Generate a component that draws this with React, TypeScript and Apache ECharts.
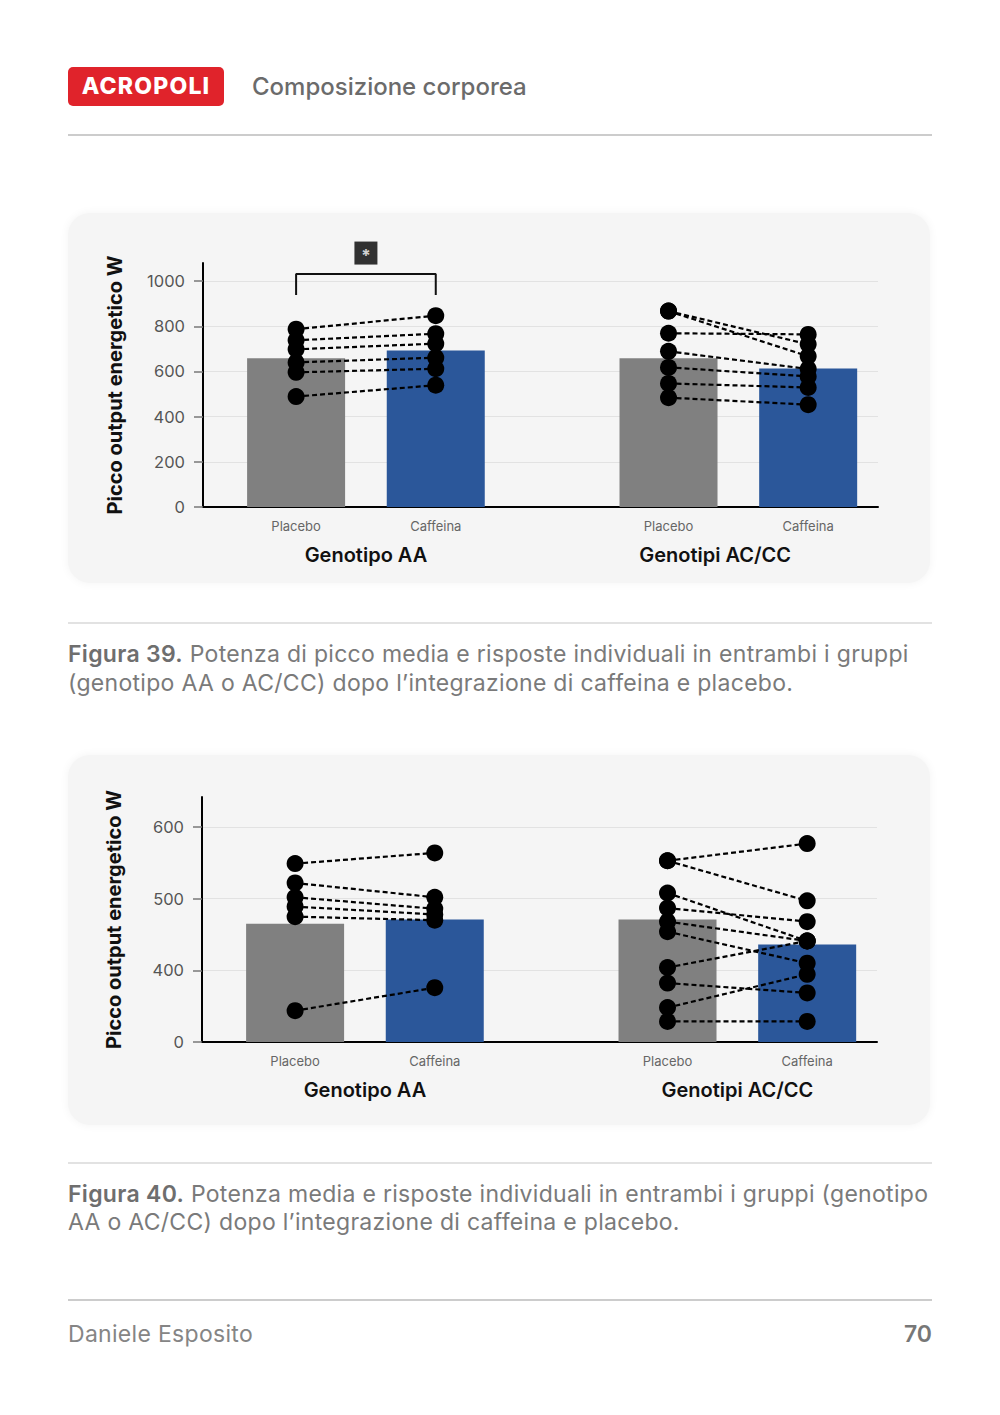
import React, { useEffect, useRef } from "react";
import * as echarts from "echarts";

// ---------- data ----------
const conditions = ["Placebo", "Caffeina"];
const groups = ["Genotipo AA", "Genotipi AC/CC"];

// Figure 39
const yTicks39 = [0, 200, 400, 600, 800, 1000];
const meansPlacebo39 = [658, 658];
const meansCaffeina39 = [693, 613];
const aaPlacebo39 = [787, 738, 698, 640, 596, 489];
const aaCaffeina39 = [847, 767, 723, 661, 612, 539];
const acccPlacebo39 = [867, 867, 769, 689, 618, 547, 484];
const acccCaffeina39 = [720, 667, 764, 611, 578, 529, 453];
const sigBracket39 = [938, 1031]; // low / high value of the significance bracket
const sigStar39 = 1124;

// Figure 40 (broken axis 0 | 400-600)
const yTicks40 = [0, 400, 500, 600];
const meansPlacebo40 = [465, 471];
const meansCaffeina40 = [471, 436];
const aaPlacebo40 = [549, 522, 502, 489, 475, 175];
const aaCaffeina40 = [564, 502, 486, 478, 470, 303];
const acccPlacebo40 = [553, 553, 508, 487, 468, 454, 404, 329, 192, 115];
const acccCaffeina40 = [577, 497, 441, 468, 441, 410, 441, 274, 378, 115];

// ---------- layout ----------
const SLOT_COUNT = 30;
const barSlots = [
  [4, 10],
  [20, 26],
];
const FONT = "Inter, 'Noto Sans', sans-serif";

const identity = (v: number) => v;
const broken40 = (v: number) => (v <= 400 ? v / 4 : v - 300);

function buildOption(cfg: {
  gridLeft: number;
  gridRight: number;
  gridTop: number;
  gridBottom: number;
  yMax: number;
  yTicks: number[];
  f: (v: number) => number;
  placeboMeans: number[];
  caffeinaMeans: number[];
  pairs: { p: number[]; c: number[] }[];
  groupSlots: number[];
  bracket?: number[];
  star?: number;
}) {
  const { f } = cfg;
  const catData = new Array(SLOT_COUNT).fill("");
  barSlots.forEach((s) => {
    catData[s[0]] = conditions[0];
    catData[s[1]] = conditions[1];
  });
  const grpData = new Array(SLOT_COUNT).fill("");
  cfg.groupSlots.forEach((s, i) => (grpData[s] = groups[i]));
  const tickDisplay = cfg.yTicks.map(f);
  const labelMap: Record<string, string> = {};
  cfg.yTicks.forEach((t) => (labelMap[String(f(t))] = String(t)));

  const series: any[] = [];
  series.push({
    type: "bar",
    name: conditions[0],
    barWidth: 98,
    barGap: "-100%",
    itemStyle: { color: "#808080" },
    data: cfg.placeboMeans.map((v, i) => [barSlots[i][0], f(v)]),
    z: 2,
  });
  series.push({
    type: "bar",
    name: conditions[1],
    barWidth: 98,
    barGap: "-100%",
    itemStyle: { color: "#2b579a" },
    data: cfg.caffeinaMeans.map((v, i) => [barSlots[i][1], f(v)]),
    z: 2,
  });
  const dots: number[][] = [];
  cfg.pairs.forEach((g, gi) => {
    g.p.forEach((pv, k) => {
      const cv = g.c[k];
      series.push({
        type: "line",
        data: [
          [barSlots[gi][0], f(pv)],
          [barSlots[gi][1], f(cv)],
        ],
        symbol: "none",
        silent: true,
        lineStyle: { color: "#000", width: 2.2, type: [5, 3] },
        z: 3,
      });
      dots.push([barSlots[gi][0], f(pv)]);
      dots.push([barSlots[gi][1], f(cv)]);
    });
  });
  series.push({
    type: "scatter",
    data: dots,
    symbolSize: 17,
    itemStyle: { color: "#000", opacity: 1 },
    z: 4,
  });
  if (cfg.bracket) {
    const [lo, hi] = cfg.bracket;
    const a = barSlots[0][0];
    const b = barSlots[0][1];
    series.push({
      type: "line",
      data: [
        [a, f(lo)],
        [a, f(hi)],
        [b, f(hi)],
        [b, f(lo)],
      ],
      symbol: "none",
      clip: false,
      lineStyle: { color: "#111", width: 2 },
      z: 5,
    });
  }
  if (cfg.star !== undefined) {
    series.push({
      type: "scatter",
      data: [[(barSlots[0][0] + barSlots[0][1]) / 2, f(cfg.star)]],
      symbol: "rect",
      symbolSize: 23,
      clip: false,
      itemStyle: { color: "#000" },
      label: {
        show: true,
        position: "inside",
        formatter: "*",
        color: "#fff",
        fontSize: 17,
        fontWeight: 700,
        fontFamily: FONT,
        offset: [0, 3],
      },
      z: 5,
    });
  }

  return {
    animation: false,
    textStyle: { fontFamily: FONT },
    grid: {
      left: cfg.gridLeft,
      right: cfg.gridRight,
      top: cfg.gridTop,
      bottom: cfg.gridBottom,
      outerBoundsMode: "none",
    },
    xAxis: [
      {
        type: "category",
        data: catData,
        boundaryGap: false,
        axisLine: { show: true, onZero: true, lineStyle: { color: "#000", width: 2 } },
        axisTick: { show: false },
        splitLine: { show: false },
        axisLabel: {
          interval: 0,
          margin: 12,
          fontSize: 13,
          color: "#666",
          fontFamily: FONT,
        },
      },
      {
        type: "category",
        data: grpData,
        boundaryGap: false,
        position: "bottom",
        offset: 29,
        axisLine: { show: false },
        axisTick: { show: false },
        splitLine: { show: false },
        axisLabel: {
          interval: 0,
          margin: 9,
          fontSize: 20,
          fontWeight: 600,
          color: "#111",
          fontFamily: FONT,
        },
      },
    ],
    yAxis: {
      type: "value",
      min: 0,
      max: cfg.yMax,
      name: "Picco output energetico W",
      nameLocation: "middle",
      nameGap: 78,
      nameTextStyle: {
        fontSize: 20,
        fontWeight: 700,
        color: "#111",
        fontFamily: FONT,
      },
      axisLine: { show: true, lineStyle: { color: "#000", width: 2 } },
      axisTick: {
        show: true,
        length: 9,
        customValues: tickDisplay,
        lineStyle: { color: "#777", width: 1.5 },
      },
      axisLabel: {
        customValues: tickDisplay,
        margin: 18,
        fontSize: 16.5,
        color: "#555",
        fontFamily: FONT,
        formatter: (v: number) => labelMap[String(v)] ?? "",
      },
      splitLine: { show: true, lineStyle: { color: "#e2e2e2", width: 1 } },
    },
    series,
  };
}

function Chart({ option, style }: { option: any; style: React.CSSProperties }) {
  const ref = useRef<HTMLDivElement>(null);
  useEffect(() => {
    if (!ref.current) return;
    const chart = echarts.init(ref.current, undefined, { renderer: "svg" });
    chart.setOption(option);
    return () => chart.dispose();
  }, [option]);
  return <div ref={ref} style={style} />;
}

const option39 = buildOption({
  gridLeft: 135,
  gridRight: 52,
  gridTop: 50,
  gridBottom: 76,
  yMax: 1080,
  yTicks: yTicks39,
  f: identity,
  placeboMeans: meansPlacebo39,
  caffeinaMeans: meansCaffeina39,
  pairs: [
    { p: aaPlacebo39, c: aaCaffeina39 },
    { p: acccPlacebo39, c: acccCaffeina39 },
  ],
  groupSlots: [7, 22],
  bracket: sigBracket39,
  star: sigStar39,
});

const option40 = buildOption({
  gridLeft: 134,
  gridRight: 53,
  gridTop: 42,
  gridBottom: 83,
  yMax: 342,
  yTicks: yTicks40,
  f: broken40,
  placeboMeans: meansPlacebo40,
  caffeinaMeans: meansCaffeina40,
  pairs: [
    { p: aaPlacebo40, c: aaCaffeina40 },
    { p: acccPlacebo40, c: acccCaffeina40 },
  ],
  groupSlots: [7, 23],
});

const panel: React.CSSProperties = {
  position: "absolute",
  left: 68,
  width: 862,
  height: 370,
  background: "#f5f5f5",
  borderRadius: 22,
  boxShadow: "0 0 10px rgba(0,0,0,0.05)",
};

const hline = (top: number, color: string, h = 2): React.CSSProperties => ({
  position: "absolute",
  left: 68,
  width: 864,
  top,
  height: h,
  background: color,
});

const caption: React.CSSProperties = {
  position: "absolute",
  left: 68,
  fontSize: 23,
  letterSpacing: 0.3,
  color: "#7a7a7a",
  whiteSpace: "nowrap",
};

export default function App() {
  return (
    <div
      style={{
        position: "absolute",
        left: 0,
        top: 0,
        width: 1000,
        height: 1415,
        background: "#fff",
        fontFamily: FONT,
        overflow: "hidden",
      }}
    >
      {/* header */}
      <div
        style={{
          position: "absolute",
          left: 68,
          top: 67,
          width: 156,
          height: 39,
          background: "#e0232b",
          borderRadius: 5,
          color: "#fff",
          fontWeight: 800,
          fontSize: 23,
          lineHeight: "39px",
          textAlign: "center",
          letterSpacing: 1.2,
        }}
      >
        ACROPOLI
      </div>
      <div
        style={{
          position: "absolute",
          left: 252,
          top: 71,
          lineHeight: "32px",
          fontSize: 24,
          fontWeight: 500,
          color: "#6b6b6b",
          whiteSpace: "nowrap",
        }}
      >
        Composizione corporea
      </div>
      <div style={hline(134, "#cccccc")} />

      {/* figure 39 */}
      <div style={{ ...panel, top: 213 }}>
        <Chart option={option39} style={{ width: 862, height: 370 }} />
      </div>
      <div style={hline(622, "#e2e2e2")} />
      <div style={{ ...caption, top: 640, lineHeight: "29px" }}>
        <div>
          <span style={{ fontWeight: 600, color: "#6e6e6e" }}>Figura 39.</span> Potenza di picco
          media e risposte individuali in entrambi i gruppi
        </div>
        <div>(genotipo AA o AC/CC) dopo l’integrazione di caffeina e placebo.</div>
      </div>

      {/* figure 40 */}
      <div style={{ ...panel, top: 755 }}>
        <Chart option={option40} style={{ width: 862, height: 370 }} />
      </div>
      <div style={hline(1162, "#e2e2e2")} />
      <div style={{ ...caption, top: 1180, lineHeight: "28px" }}>
        <div>
          <span style={{ fontWeight: 600, color: "#6e6e6e" }}>Figura 40.</span> Potenza media e
          risposte individuali in entrambi i gruppi (genotipo
        </div>
        <div>AA o AC/CC) dopo l’integrazione di caffeina e placebo.</div>
      </div>

      {/* footer */}
      <div style={hline(1299, "#cccccc")} />
      <div
        style={{
          position: "absolute",
          left: 68,
          top: 1320,
          fontSize: 23,
          letterSpacing: 0.3,
          lineHeight: "28px",
          color: "#858585",
        }}
      >
        Daniele Esposito
      </div>
      <div
        style={{
          position: "absolute",
          right: 68,
          top: 1320,
          fontSize: 23,
          lineHeight: "28px",
          fontWeight: 600,
          color: "#777",
        }}
      >
        70
      </div>
    </div>
  );
}
